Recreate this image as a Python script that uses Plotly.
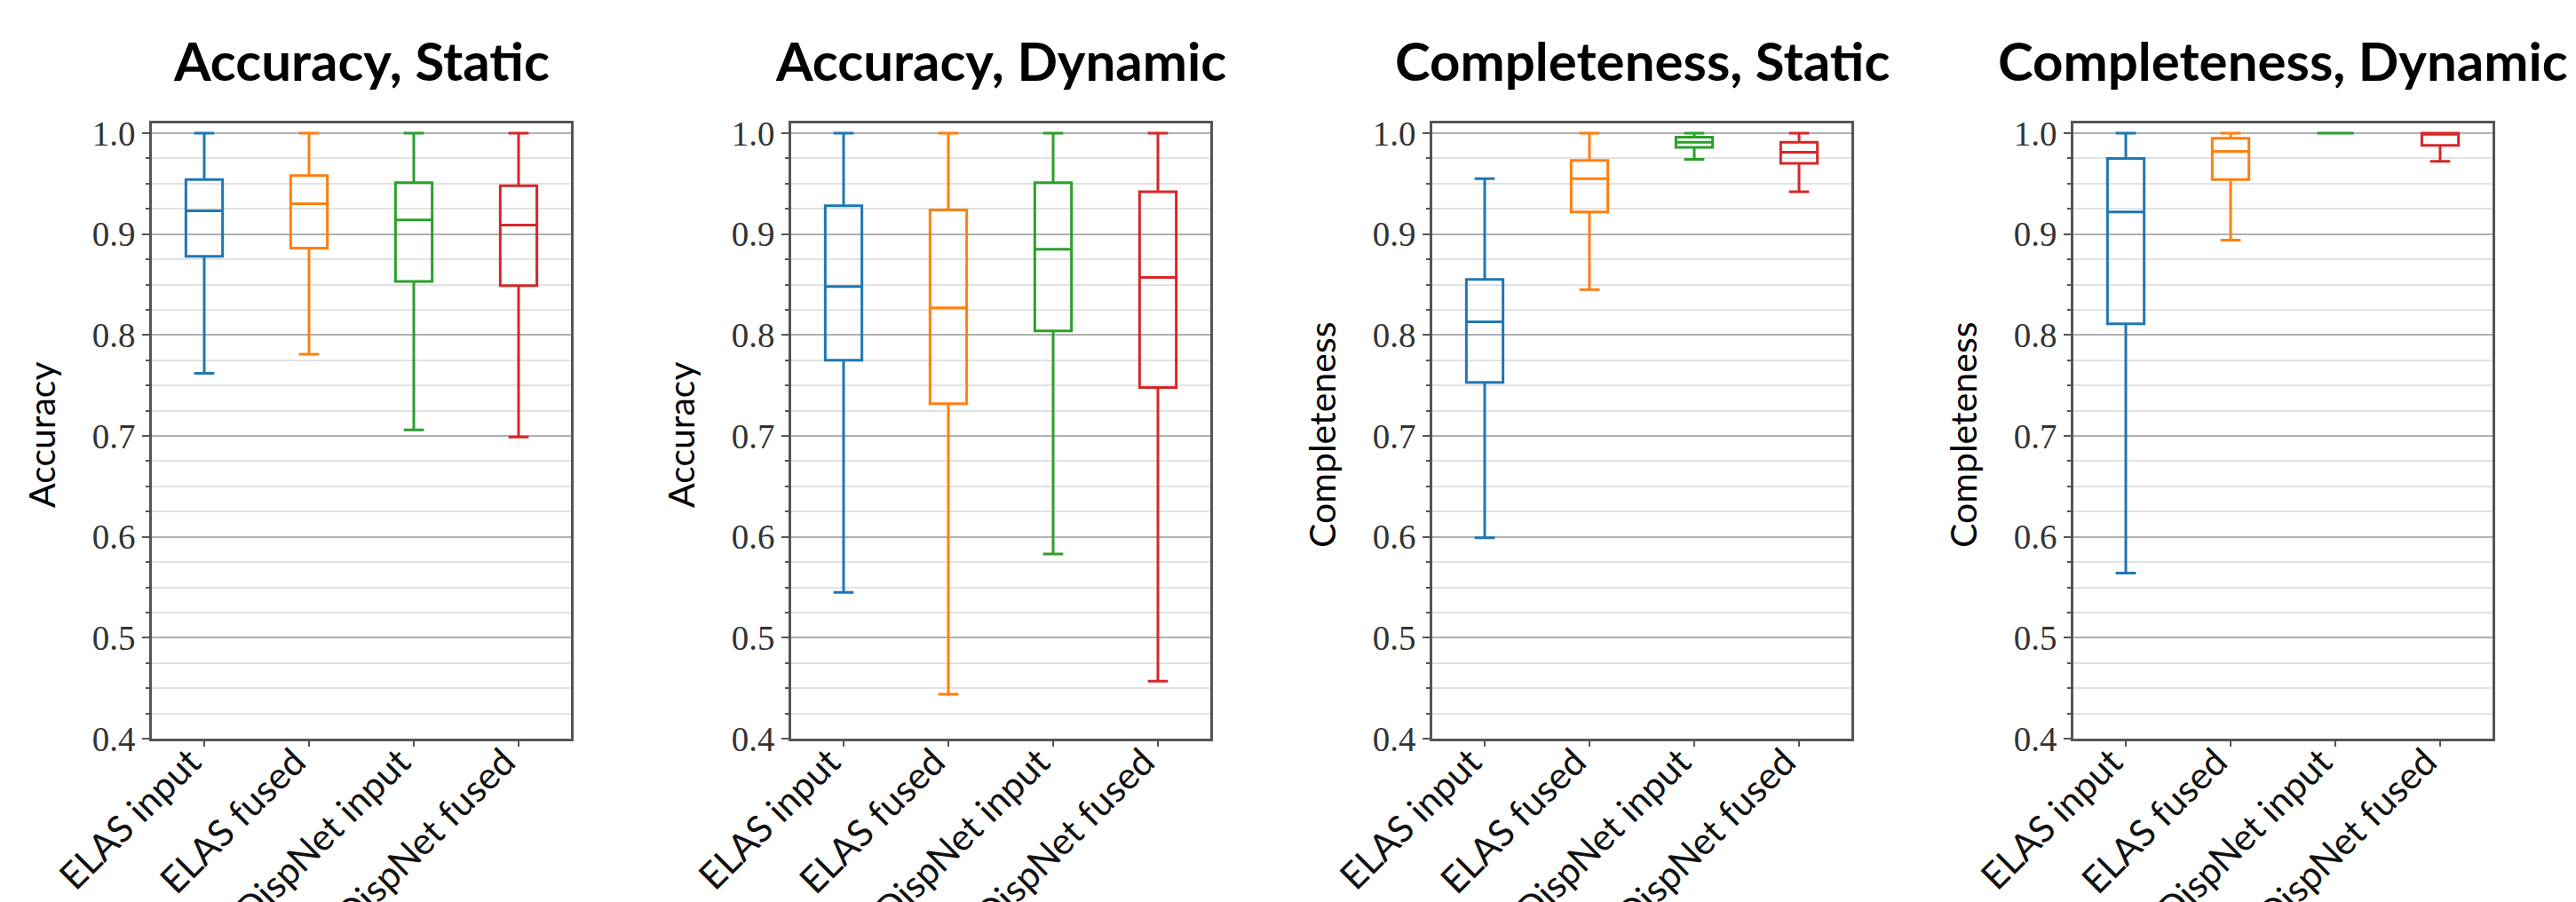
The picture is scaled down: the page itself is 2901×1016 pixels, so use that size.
import plotly.graph_objects as go

# ---------------- data ----------------
categories = ["ELAS input", "ELAS fused", "DispNet input", "DispNet fused"]
colors = ["#1f77b4", "#ff7f0e", "#2ca02c", "#d62728"]

panel_titles = ["Accuracy, Static", "Accuracy, Dynamic", "Completeness, Static", "Completeness, Dynamic"]
panel_ylabels = ["Accuracy", "Accuracy", "Completeness", "Completeness"]

# Accuracy, Static
acc_static_low = [0.762, 0.781, 0.706, 0.699]
acc_static_q1 = [0.878, 0.886, 0.853, 0.849]
acc_static_med = [0.923, 0.930, 0.914, 0.909]
acc_static_q3 = [0.954, 0.958, 0.951, 0.948]
acc_static_high = [1.0, 1.0, 1.0, 1.0]

# Accuracy, Dynamic
acc_dynamic_low = [0.545, 0.444, 0.583, 0.457]
acc_dynamic_q1 = [0.775, 0.732, 0.804, 0.748]
acc_dynamic_med = [0.848, 0.827, 0.885, 0.857]
acc_dynamic_q3 = [0.928, 0.924, 0.951, 0.942]
acc_dynamic_high = [1.0, 1.0, 1.0, 1.0]

# Completeness, Static
comp_static_low = [0.599, 0.845, 0.974, 0.942]
comp_static_q1 = [0.753, 0.922, 0.986, 0.970]
comp_static_med = [0.813, 0.955, 0.991, 0.981]
comp_static_q3 = [0.855, 0.973, 0.996, 0.991]
comp_static_high = [0.955, 1.0, 1.0, 1.0]

# Completeness, Dynamic
comp_dynamic_low = [0.564, 0.894, 1.0, 0.972]
comp_dynamic_q1 = [0.811, 0.954, 1.0, 0.988]
comp_dynamic_med = [0.922, 0.982, 1.0, 0.999]
comp_dynamic_q3 = [0.975, 0.995, 1.0, 1.0]
comp_dynamic_high = [1.0, 1.0, 1.0, 1.0]

panels = [
    (acc_static_low, acc_static_q1, acc_static_med, acc_static_q3, acc_static_high),
    (acc_dynamic_low, acc_dynamic_q1, acc_dynamic_med, acc_dynamic_q3, acc_dynamic_high),
    (comp_static_low, comp_static_q1, comp_static_med, comp_static_q3, comp_static_high),
    (comp_dynamic_low, comp_dynamic_q1, comp_dynamic_med, comp_dynamic_q3, comp_dynamic_high),
]

y_ticks = [0.4, 0.5, 0.6, 0.7, 0.8, 0.9, 1.0]

# ---------------- layout geometry (pixels) ----------------
W, H = 2901, 1016
panel_left = [171, 891, 1613, 2335]
panel_w = 472
plot_top, plot_bottom = 139, 832

fig = go.Figure()
layout = dict(
    width=W, height=H, autosize=False,
    margin=dict(l=0, r=0, t=0, b=0, pad=0),
    paper_bgcolor="white", plot_bgcolor="white",
    showlegend=False, boxmode="overlay", boxgap=0.5,
    annotations=[],
)

for p, stats in enumerate(panels):
    low, q1, med, q3, high = stats
    sfx = "" if p == 0 else str(p + 1)
    for i, cat in enumerate(categories):
        fig.add_trace(go.Box(
            x=[cat], lowerfence=[low[i]], q1=[q1[i]], median=[med[i]],
            q3=[q3[i]], upperfence=[high[i]],
            name=cat, xaxis="x" + sfx, yaxis="y" + sfx,
            line=dict(color=colors[i], width=3),
            fillcolor="rgba(0,0,0,0)", whiskerwidth=0.55,
            boxpoints=False, hoverinfo="skip",
        ))
    x0 = panel_left[p] / W
    x1 = (panel_left[p] + panel_w) / W
    y0 = 1 - plot_bottom / H
    y1 = 1 - plot_top / H
    layout["xaxis" + sfx] = dict(
        domain=[x0, x1], anchor="y" + sfx, type="category", automargin=False,
        categoryorder="array", categoryarray=categories,
        range=[-0.5, 3.5], showgrid=False, zeroline=False,
        showline=True, mirror=True, linecolor="#555555", linewidth=2.5,
        ticks="outside", ticklen=6, tickwidth=2, tickcolor="#555555",
        tickangle=-45, ticklabelstandoff=-24, ticklabelshift=-16,
        tickfont=dict(family="Lato", size=42, color="#111111"),
    )
    layout["yaxis" + sfx] = dict(
        domain=[y0, y1], anchor="x" + sfx, range=[0.4, 1.0097], automargin=False,
        tickmode="array", tickvals=y_ticks, ticktext=[f"{v:.1f}" for v in y_ticks],
        showgrid=True, gridcolor="#b0b0b0", gridwidth=2, zeroline=False,
        showline=True, mirror=True, linecolor="#555555", linewidth=2.5,
        ticks="outside", ticklen=8, tickwidth=2, tickcolor="#555555",
        tickfont=dict(family="Liberation Serif", size=39, color="#333333"),
        minor=dict(dtick=0.025, tick0=0.4, showgrid=True, gridcolor="#e2e2e2",
                   gridwidth=1.5, ticks="outside", ticklen=4, tickwidth=1.5,
                   tickcolor="#555555"),
    )
    # panel title
    layout["annotations"].append(dict(
        text="<b>" + panel_titles[p] + "</b>", xref="paper", yref="paper",
        x=(panel_left[p] + panel_w / 2) / W, y=1 - 106 / H,
        xanchor="center", yanchor="bottom", showarrow=False,
        font=dict(family="Lato", size=60, color="#000000"),
    ))
    # y axis label
    layout["annotations"].append(dict(
        text=panel_ylabels[p], xref="paper", yref="paper",
        x=(panel_left[p] - 125) / W, y=1 - 490 / H,
        xanchor="center", yanchor="middle", textangle=-90, showarrow=False,
        font=dict(family="Lato", size=41, color="#000000"),
    ))

fig.update_layout(**layout)
fig.write_html(
    "out.html",
    config={"displayModeBar": False},
    post_script="document.body.style.margin='0';document.body.style.overflow='hidden';",
)
